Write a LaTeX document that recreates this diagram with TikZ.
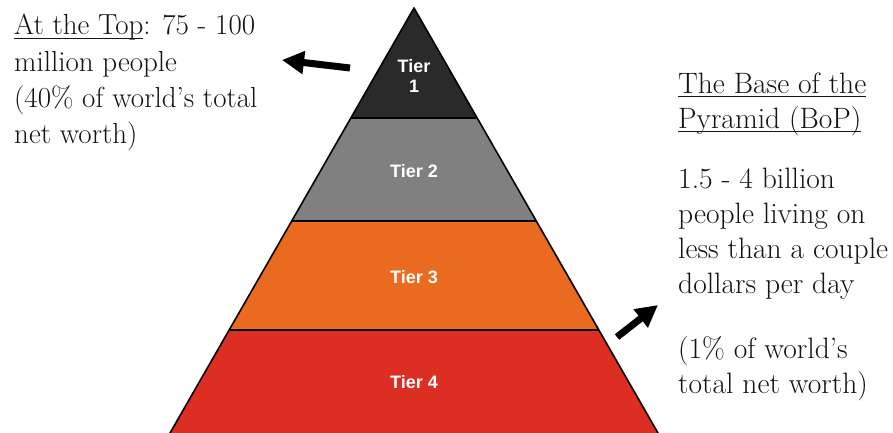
\documentclass[tikz,border=0pt]{standalone}
\usepackage{fontspec}
\newfontfamily\tierfont{Liberation Sans}
\usepackage{xcolor}
\definecolor{tierone}{RGB}{42,42,42}
\definecolor{tiertwo}{RGB}{128,128,128}
\definecolor{tierthree}{RGB}{234,106,32}
\definecolor{tierfour}{RGB}{220,46,35}
\definecolor{ink}{RGB}{20,20,20}
\usetikzlibrary{arrows.meta,positioning,calc}
\newcommand\ulined[1]{\setbox0\hbox{#1}\rlap{\rule[-4pt]{\wd0}{1.3pt}}\box0}
\tikzset{
  band/.style={draw=black,line width=1.6pt,line join=round},
  tierlabel/.style={font=\tierfont\bfseries\fontsize{18}{20}\selectfont,%
    text=white,align=center,inner sep=0pt},
  note/.style={font=\fontsize{29}{36}\selectfont,text=ink,%
    align=left,inner sep=0pt,anchor=base west},
  pointer/.style={-{Triangle[length=22pt,width=22pt]},line width=7pt,draw=black},
}

\begin{document}
\begin{tikzpicture}[x=1pt,y=-1pt]
\useasboundingbox (0,0) rectangle (893,433);
% corners of the tiers
\coordinate (apex) at (414,8);
\coordinate (l1) at (350.8,118); \coordinate (r1) at (477.2,118);
\coordinate (l2) at (291.7,221); \coordinate (r2) at (536.3,221);
\coordinate (l3) at (229.1,330); \coordinate (r3) at (598.9,330);
\coordinate (l4) at (168.3,436); \coordinate (r4) at (659.7,436);
\fill[tierone] (apex) -- (r1) -- (l1) -- cycle;
\fill[tiertwo] (l1) -- (r1) -- (r2) -- (l2) -- cycle;
\fill[tierthree] (l2) -- (r2) -- (r3) -- (l3) -- cycle;
\fill[tierfour] (l3) -- (r3) -- (r4) -- (l4) -- cycle;
\draw[band] (l1) -- (r1) (l2) -- (r2) (l3) -- (r3);
\draw[band] (l4) -- (apex) -- (r4);
\node[tierlabel] (t1) at (414,76) {Tier\\1};
\node[tierlabel] (t2) at (414,171) {Tier 2};
\node[tierlabel] (t3) at (414,277) {Tier 3};
\node[tierlabel] (t4) at (414,382) {Tier 4};
% the two notes (placed by the baseline of their last line)
\node[note] (top) at (14,143) {\ulined{At the Top}: 75 - 100\\million people\\%
  (40\% of world's total\\net worth)};
\node[note,font=\fontsize{29.5}{35}\selectfont] (bop) at (678,393)
  {\ulined{The Base of the}\\\ulined{Pyramid (BoP)}\\[25pt]1.5 - 4 billion\\%
  people living on\\less than a couple\\dollars per day\\[30pt]%
  (1\% of world's\\total net worth)};
\coordinate (topTail) at (350,68);
\coordinate (topTip) at (282,60);
\coordinate (bopTail) at (617,337);
\coordinate (bopTip) at (658,305);
\draw[pointer] (topTail) -- (topTip);
\draw[pointer] (bopTail) -- (bopTip);
\end{tikzpicture}
\end{document}
